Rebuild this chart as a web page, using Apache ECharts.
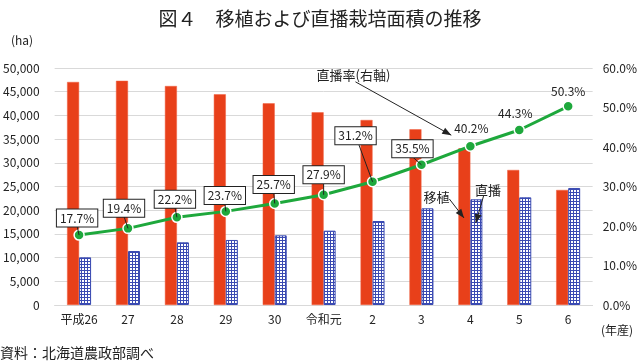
<!DOCTYPE html>
<html><head><meta charset="utf-8">
<script src="https://cdn.jsdelivr.net/npm/echarts@6/dist/echarts.min.js"></script>
<style>html,body{margin:0;padding:0;background:#fff}#c{width:640px;height:362px}</style>
</head><body><div id="c"></div>
<script>
const categories = ['平成26','27','28','29','30','令和元','2','3','4','5','6'];
const transplant = [47050, 47300, 46200, 44450, 42550, 40650, 39030, 37070, 33060, 28490, 24270];
const direct = [10060, 11390, 13230, 13720, 14700, 15680, 17720, 20400, 22300, 22720, 24690];
const rate = [17.7, 19.4, 22.2, 23.7, 25.7, 27.9, 31.2, 35.5, 40.2, 44.3, 50.3];
const rateLabelOffsets = [[-2,-17],[-4,-20],[-2,-18],[-1,-16],[-1,-19],[0,-20],[-17,-46],[-9,-16],[1,-18],[-4,-17],[0,-15]];
const boxed = [true,true,true,true,true,true,true,true,false,false,false];

const FONT = '"Noto Sans CJK JP", "Noto Sans", sans-serif';
const chart = echarts.init(document.getElementById('c'), null, {renderer:'canvas'});

// mesh pattern for direct-seeding bars
const pc = document.createElement('canvas');
pc.width = 3; pc.height = 3;
const g = pc.getContext('2d');
g.fillStyle = '#ffffff'; g.fillRect(0,0,3,3);
g.fillStyle = '#3a4ab2'; g.fillRect(0,0,3,1); g.fillRect(0,0,1,3);

chart.setOption({
  animation:false,
  title:{text:'図４　移植および直播栽培面積の推移', left:'center', top:4,
    textStyle:{fontSize:19, fontWeight:'normal', color:'#222', fontFamily:FONT}},
  grid:{left:53, right:42, top:68, bottom:57},
  xAxis:{type:'category', data:categories,
    axisLine:{show:true, lineStyle:{color:'#d9d9d9'}}, axisTick:{show:false},
    axisLabel:{color:'#222', fontSize:12, fontFamily:FONT, margin:8}},
  yAxis:[
    {type:'value', min:0, max:50000, interval:5000,
      axisLabel:{color:'#222', fontSize:12, fontFamily:FONT, margin:15,
        formatter:v=>v.toLocaleString('en-US')},
      splitLine:{lineStyle:{color:'#d9d9d9'}}, axisLine:{show:false}, axisTick:{show:false}},
    {type:'value', min:0, max:60, interval:10,
      axisLabel:{color:'#222', fontSize:12, fontFamily:FONT, margin:10,
        formatter:v=>v.toFixed(1)+'%'},
      splitLine:{show:false}, axisLine:{show:false}, axisTick:{show:false}}
  ],
  series:[
    {name:'移植', type:'bar', data:transplant, barWidth:12, barGap:'0%',
      itemStyle:{color:'#e8401a', borderColor:'#f06040', borderWidth:0.5}},
    {name:'直播', type:'bar', data:direct, barWidth:12, barGap:'0%',
      itemStyle:{color:{image:pc, repeat:'repeat'}, borderColor:'#3a4ab2', borderWidth:1}},
    {name:'直播率', type:'line', yAxisIndex:1, data:rate, z:5,
      symbol:'circle', symbolSize:10,
      lineStyle:{color:'#1ea83c', width:3},
      itemStyle:{color:'#1ea83c', borderColor:'#fff', borderWidth:1.5}}
  ]
});

// annotations anchored to the coordinate system
const x0 = chart.convertToPixel({xAxisIndex:0}, 0);
const x1 = chart.convertToPixel({xAxisIndex:0}, 1);
const step = x1 - x0;
const xAt = f => x0 + f*step;
const yL = v => chart.convertToPixel({yAxisIndex:0}, v);
const yR = v => chart.convertToPixel({yAxisIndex:1}, v);

const els = [];
// rate labels (boxed ones with leader lines)
rate.forEach((v,i)=>{
  const px = xAt(i), py = yR(v);
  const cx = px + rateLabelOffsets[i][0], cy = py + rateLabelOffsets[i][1];
  if (boxed[i]) {
    els.push({type:'line', z:20, shape:{x1:cx + (i===6?3:0), y1:cy+8, x2:px, y2:py}, style:{stroke:'#222', lineWidth:1}});
    els.push({type:'text', z:30, x:cx, y:cy, style:{text:v.toFixed(1)+'%', fill:'#222', font:'12px '+FONT,
      align:'center', verticalAlign:'middle', backgroundColor:'#fff', borderColor:'#222', borderWidth:1, padding:[3,3,2,3]}});
  } else {
    els.push({type:'text', z:30, x:cx, y:cy, style:{text:v.toFixed(1)+'%', fill:'#222', font:'12px '+FONT,
      align:'center', verticalAlign:'middle'}});
  }
});
function arrow(ax, ay, bx, by){
  els.push({type:'line', z:10, shape:{x1:ax,y1:ay,x2:bx,y2:by}, style:{stroke:'#222', lineWidth:1}});
  const ang = Math.atan2(by-ay, bx-ax), L=9, W=3.5;
  const cx = bx - L*Math.cos(ang), cy = by - L*Math.sin(ang);
  els.push({type:'polygon', z:10, shape:{points:[[bx,by],[cx - W*Math.sin(ang), cy + W*Math.cos(ang)],[cx + W*Math.sin(ang), cy - W*Math.cos(ang)]]}, style:{fill:'#222'}});
}
function txt(x,y,t,size,align){
  els.push({type:'text', z:10, x:x, y:y, style:{text:t, fill:'#222', font:(size||13)+'px '+FONT, align:align||'center', verticalAlign:'middle'}});
}
// 直播率(右軸)
txt(xAt(5.61), yR(58.2), '直播率(右軸)', 13);
arrow(xAt(5.65), yR(56.5), xAt(7.61), yR(43.0));
// 移植
txt(xAt(7.31), yL(22790), '移植', 13);
arrow(xAt(7.57), yL(22370), xAt(7.87), yL(18360));
// 直播
txt(xAt(8.36), yL(24270), '直播', 13);
arrow(xAt(8.27), yL(23000), xAt(8.11), yL(17300));
// units / source
txt(22, 40, '(ha)', 12);
txt(617, 330, '(年産)', 12);
txt(0, 353, '資料：北海道農政部調べ', 14, 'left');

chart.setOption({graphic:{elements:els}});
</script></body></html>
